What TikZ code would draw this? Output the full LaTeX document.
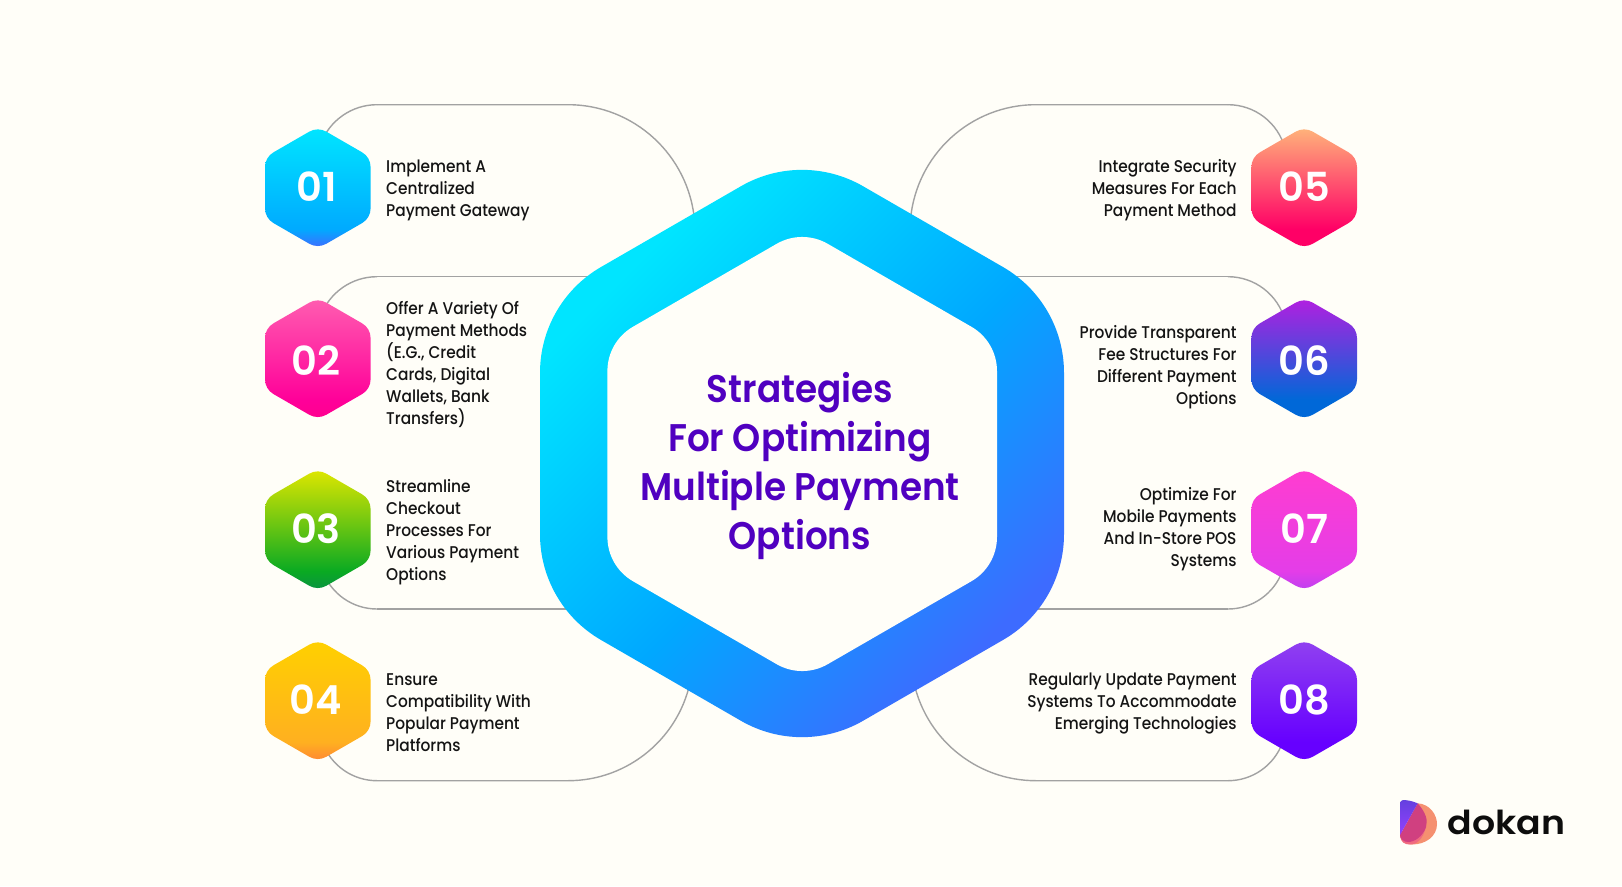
\documentclass[tikz,border=0pt]{standalone}
\usepackage{fontspec}
\setmainfont{Poppins}
\newfontfamily\bodyfont[FakeStretch=0.905]{Poppins Medium}
\newfontfamily\titlefont[FakeStretch=0.93]{Poppins SemiBold}
\newfontfamily\numfont{Poppins SemiBold}
\newfontfamily\logofont[FakeStretch=1.1]{Poppins SemiBold}
\definecolor{bgc}{HTML}{FFFEF8}
\definecolor{linec}{HTML}{A2A2A2}
\definecolor{titlec}{HTML}{5000C0}
\definecolor{logoa}{HTML}{F59070}
\definecolor{logob}{HTML}{D04080}
\definecolor{logoc}{HTML}{6540DF}
\definecolor{logod}{HTML}{9440FF}
\definecolor{logoe}{HTML}{F06A80}
\newcommand\vgrad[7]{% name, top, midpos, mid, bottom
  \definecolor{#1t}{HTML}{#2}\definecolor{#1m}{HTML}{#4}\definecolor{#1b}{HTML}{#5}%
  \pgfmathsetmacro\gm{25+50*(1-#3)}%
  \pgfdeclareverticalshading[#1t,#1m,#1b]{#1}{100bp}{color(0bp)=(#1b);color(25bp)=(#1b);color(\gm bp)=(#1m);color(75bp)=(#1t);color(100bp)=(#1t)}}
\vgrad{ga}{00E5FF}{0.6}{00AAFF}{3D6FFF}{}{}
\vgrad{gb}{FF5CB0}{0.6}{FF0099}{FF0090}{}{}
\vgrad{gc}{DDE600}{0.68}{0AAA22}{0A9440}{}{}
\vgrad{gd}{FFD000}{0.5}{FFB020}{FF8A33}{}{}
\vgrad{ge}{FFB27A}{0.75}{FF0066}{FF0066}{}{}
\vgrad{gf}{B020E0}{0.85}{0068D8}{0068D8}{}{}
\vgrad{gg}{FF3DD0}{0.5}{E43DE8}{C040F0}{}{}
\vgrad{gh}{9040F0}{0.85}{6600FF}{6600FF}{}{}
\definecolor{cca}{HTML}{00E5FF}\definecolor{ccb}{HTML}{00A8FF}\definecolor{ccc}{HTML}{3D6BFF}
\pgfdeclareverticalshading[cca,ccb,ccc]{gcentre}{100bp}{color(0bp)=(cca);color(27bp)=(cca);color(53bp)=(ccb);color(74bp)=(ccc);color(100bp)=(ccc)}
% rounded pointy-top hexagon: options, cx, cy, apothem, corner radius
\newcommand\rhex[6][]{%
  \pgfmathsetmacro\hD{((#5)-(#6))/cos(30)}%
  \path[#2,#1] (#3,#4) ++(-90:\hD) ++(-120:#6)
    arc[start angle=-120,end angle=-60,radius=#6] -- ++(30:\hD)
    arc[start angle=-60,end angle=0,radius=#6] -- ++(90:\hD)
    arc[start angle=0,end angle=60,radius=#6] -- ++(150:\hD)
    arc[start angle=60,end angle=120,radius=#6] -- ++(210:\hD)
    arc[start angle=120,end angle=180,radius=#6] -- ++(270:\hD)
    arc[start angle=180,end angle=240,radius=#6] -- cycle;}
\tikzset{
  every picture/.style={x=1pt,y=-1pt},
  conn/.style={draw=linec,line width=1.4pt},
  ltext/.style={anchor=base west,align=left,inner sep=0pt,text=black!92,font=\bodyfont\fontsize{17}{22}\selectfont},
  rtext/.style={anchor=base east,align=right,inner sep=0pt,text=black!92,font=\bodyfont\fontsize{17}{22}\selectfont},
  numtext/.style={inner sep=0pt,text=white,font=\numfont\fontsize{40}{40}\selectfont},
  titletext/.style={align=center,inner sep=0pt,text=titlec,anchor=base,font=\titlefont\fontsize{38.5}{49}\selectfont},
  logotext/.style={anchor=base west,inner sep=0pt,text=black!95,font=\logofont\fontsize{33}{33}\selectfont}
}
\begin{document}
\begin{tikzpicture}
\useasboundingbox (0,0) rectangle (1622,886);
\fill[bgc] (0,0) rectangle (1622,886);
% connector way-points
\coordinate (a1) at (377,104.7); \coordinate (b1) at (568,104.7);
\coordinate (a2) at (377,276.7); \coordinate (b2) at (610,276.7);
\coordinate (a3) at (377,609);   \coordinate (b3) at (590,609);
\coordinate (a4) at (377,780.7); \coordinate (b4) at (568,780.7);
\coordinate (a5) at (1228,104.7); \coordinate (b5) at (1036,104.7);
\coordinate (a6) at (1228,276.7); \coordinate (b6) at (995,276.7);
\coordinate (a7) at (1228,609);   \coordinate (b7) at (1015,609);
\coordinate (a8) at (1228,780.7); \coordinate (b8) at (1036,780.7);
\draw[conn] (a1) arc[start angle=-90,end angle=-160,radius=60];
\draw[conn] (a1) -- (b1) arc[start angle=-90,end angle=-5,radius=127];
\draw[conn] (a2) arc[start angle=-90,end angle=-160,radius=60];
\draw[conn] (a2) -- (b2);
\draw[conn] (a3) arc[start angle=90,end angle=160,radius=58];
\draw[conn] (a3) -- (b3);
\draw[conn] (a4) arc[start angle=90,end angle=160,radius=58];
\draw[conn] (a4) -- (b4) arc[start angle=90,end angle=10,radius=125];
\draw[conn] (a5) arc[start angle=-90,end angle=-15,radius=59];
\draw[conn] (a5) -- (b5) arc[start angle=-90,end angle=-175,radius=126];
\draw[conn] (a6) arc[start angle=-90,end angle=-15,radius=59];
\draw[conn] (a6) -- (b6);
\draw[conn] (a7) arc[start angle=90,end angle=20,radius=58];
\draw[conn] (a7) -- (b7);
\draw[conn] (a8) arc[start angle=90,end angle=20,radius=58];
\draw[conn] (a8) -- (b8) arc[start angle=90,end angle=170,radius=125];
% central hexagon
\rhex[shading=gcentre,shading angle=-135]{shade}{802}{453.5}{262}{122}
\rhex{fill=bgc}{802.2}{454}{194.8}{51}
\node[titletext] (title) at (800,549) {Strategies\\For Optimizing\\Multiple Payment\\Options};
% numbered hexagons
\rhex[shading=ga]{shade}{317.8}{187.7}{52.8}{17}
\rhex[shading=gb]{shade}{317.8}{358.7}{52.8}{17}
\rhex[shading=gc]{shade}{317.8}{529.7}{52.8}{17}
\rhex[shading=gd]{shade}{317.8}{700.7}{52.8}{17}
\rhex[shading=ge]{shade}{1304.2}{187.7}{52.8}{17}
\rhex[shading=gf]{shade}{1304.2}{358.7}{52.8}{17}
\rhex[shading=gg]{shade}{1304.2}{529.7}{52.8}{17}
\rhex[shading=gh]{shade}{1304.2}{700.7}{52.8}{17}
\node[numtext] (n1) at (317,187) {01};
\node[numtext] (n2) at (316,361) {02};
\node[numtext] (n3) at (316,529) {03};
\node[numtext] (n4) at (316,700) {04};
\node[numtext] (n5) at (1304.5,187) {05};
\node[numtext] (n6) at (1304.5,361) {06};
\node[numtext] (n7) at (1304.5,529) {07};
\node[numtext] (n8) at (1304.5,700) {08};
% labels
\node[ltext] (t1) at (386,216.3) {Implement A\\Centralized\\Payment Gateway};
\node[ltext] (t2) at (386,424) {Offer A Variety Of\\Payment Methods\\(E.G., Credit\\Cards, Digital\\Wallets, Bank\\Transfers)};
\node[ltext] (t3) at (386,580.3) {Streamline\\Checkout\\Processes For\\Various Payment\\Options};
\node[ltext] (t4) at (386,751.3) {Ensure\\Compatibility With\\Popular Payment\\Platforms};
\node[rtext] (t5) at (1236.7,216.3) {Integrate Security\\Measures For Each\\Payment Method};
\node[rtext] (t6) at (1236.7,404.3) {Provide Transparent\\Fee Structures For\\Different Payment\\Options};
\node[rtext] (t7) at (1236.7,566.7) {Optimize For\\Mobile Payments\\And In-Store POS\\Systems};
\node[rtext] (t8) at (1236.7,729) {Regularly Update Payment\\Systems To Accommodate\\Emerging Technologies};
% logo
\fill[logoa] (1417.7,803.3) .. controls (1430,804) and (1437,815) .. (1437,824) .. controls (1437,836) and (1426,844.5) .. (1412,844.5) .. controls (1406,844.5) and (1401,842) .. (1400,836) -- cycle;
\fill[logoe] (1400,832) -- (1426,827) .. controls (1423,838) and (1418,844.5) .. (1410,844.5) .. controls (1404,844.5) and (1401,842) .. (1400,836) -- cycle;
\fill[logob] (1417.7,803.3) .. controls (1426,813) and (1428,820) .. (1426,827) .. controls (1423,836) and (1415,842) .. (1408,842) .. controls (1404,842) and (1400,839) .. (1400,835) -- cycle;
\shade[top color=logoc,bottom color=logod] (1400,835) -- (1417.7,803.3) .. controls (1411,800.5) and (1406,800) .. (1403,800) .. controls (1401,800) and (1400,802) .. (1400,804) -- cycle;
\node[logotext] (logo) at (1447.5,834) {dokan};
\end{tikzpicture}
\end{document}
